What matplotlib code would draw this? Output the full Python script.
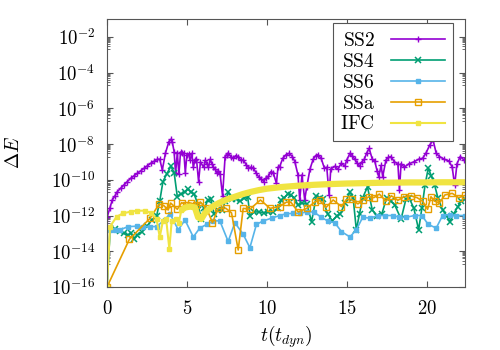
import numpy as np
import matplotlib
matplotlib.use('Agg')
import matplotlib.pyplot as plt
from matplotlib.ticker import FuncFormatter, FixedLocator

plt.rcParams['mathtext.fontset'] = 'cm'

# values are read as log10(Delta E)
ss2_t = [0.0, 0.02, 0.17, 0.33, 0.5, 0.64, 0.85, 1.06, 1.27, 1.48, 1.69, 1.9, 2.1, 2.31, 2.52,
         2.73, 2.94, 3.14, 3.3, 3.46, 3.66, 3.87, 3.98, 4.08, 4.2, 4.29, 4.4, 4.5, 4.6, 4.7,
         4.81, 4.9, 5.0, 5.1, 5.2, 5.31, 5.4, 5.5, 5.6, 5.73, 5.85, 6.04, 6.15, 6.25, 6.35,
         6.46, 6.56, 6.66, 6.77, 6.87, 6.97, 7.08, 7.23, 7.39, 7.5, 7.6, 7.75, 7.9, 8.05, 8.2,
         8.37, 8.54, 8.7, 8.85, 9.0, 9.16, 9.32, 9.48, 9.64, 9.8, 9.95, 10.1, 10.25, 10.4, 10.6,
         10.7, 10.8, 11.0, 11.2, 11.4, 11.6, 11.75, 11.95, 12.06, 12.2, 12.37, 12.5, 12.7, 12.9,
         13.05, 13.2, 13.4, 13.6, 13.75, 13.9, 14.0, 14.25, 14.45, 14.66, 14.87, 15.0, 15.2,
         15.35, 15.5, 15.65, 15.8, 15.95, 16.1, 16.25, 16.4, 16.6, 16.75, 16.9, 17.0, 17.15,
         17.25, 17.45, 17.6, 17.77, 17.98, 18.2, 18.3, 18.4, 18.6, 18.9, 19.2, 19.5, 19.75,
         19.95, 20.2, 20.4, 20.6, 20.8, 21.1, 21.4, 21.6, 21.75, 21.9, 22.1, 22.35]
ss2_log = [-16, -12.06, -11.6, -11.13, -10.9, -10.67, -10.48, -10.29, -10.1, -9.92, -9.78, -9.64,
           -9.5, -9.36, -9.22, -9.08, -8.97, -8.86, -8.85, -9.45, -8.5, -7.87, -7.74, -7.87, -8.43,
           -9.64, -8.5, -9.7, -8.45, -8.5, -8.5, -9.6, -8.6, -8.55, -8.9, -8.52, -9.3, -8.9, -8.85,
           -10.1, -9.0, -9.3, -8.9, -9.1, -9.3, -8.85, -9.1, -9.3, -9.4, -9.64, -9.5, -9.7, -10.9,
           -8.7, -8.6, -8.52, -8.7, -8.8, -8.65, -8.7, -8.9, -8.9, -9.15, -9.32, -9.3, -9.35, -9.6,
           -9.83, -9.95, -10.1, -9.9, -9.8, -9.55, -9.6, -10.2, -9.3, -9.27, -8.8, -8.6, -8.52,
           -8.7, -8.98, -9.73, -11.13, -9.73, -11.13, -10.39, -9.4, -8.85, -8.65, -8.6, -8.8,
           -9.35, -9.3, -10.85, -9.4, -9.25, -9.4, -9.07, -9.25, -8.9, -8.52, -8.65, -8.85, -9.05,
           -9.25, -9.0, -8.85, -8.5, -8.24, -8.85, -8.95, -9.5, -9.83, -9.2, -9.83, -8.9, -8.75,
           -8.7, -9.0, -9.1, -10.57, -9.1, -9.3, -9.1, -9.0, -8.85, -8.8, -8.52, -8.05, -7.78,
           -8.52, -8.7, -8.85, -8.95, -9.3, -10.3, -9.1, -8.7, -8.9]

ss4_t = [0, 0.2, 0.5, 0.8, 1.05, 1.3, 1.5, 1.7, 1.9, 2.2, 2.5, 2.8, 3.1, 3.3, 3.5, 3.75, 4.0,
         4.2, 4.4, 4.6, 4.85, 5.05, 5.25, 5.45, 5.7, 5.9, 6.1, 6.3, 6.5, 6.7, 6.95, 7.2, 7.4,
         7.6, 7.85, 8.1, 8.35, 8.6, 8.8, 8.95, 9.2, 9.5, 9.8, 10.1, 10.4, 10.7, 10.9, 11.1,
         11.3, 11.5, 11.7, 11.95, 12.2, 12.5, 12.8, 13.1, 13.3, 13.5, 13.8, 14.1, 14.4, 14.6,
         14.9, 15.2, 15.4, 15.6, 15.8, 16.0, 16.3, 16.6, 16.9, 17.2, 17.5, 17.75, 18.0, 18.4,
         18.7, 18.9, 19.2, 19.5, 19.7, 19.9, 20.1, 20.3, 20.5, 20.7, 21.0, 21.25, 21.45, 21.7,
         21.95, 22.15, 22.4]
ss4_log = [-16, -12.7, -12.75, -12.85, -13.0, -13.1, -13.0, -13.3, -13.1, -12.9, -12.6, -12.25,
           -12.05, -11.2, -10.1, -9.65, -9.25, -9.6, -10.95, -10.8, -10.7, -10.5, -10.7, -10.8,
           -11.4, -12.2, -11.6, -11.15, -11.1, -11.9, -11.7, -11.7, -11.2, -10.7, -11.1, -11.05,
           -11.2, -11.0, -10.95, -12.0, -11.8, -11.8, -11.85, -11.8, -11.8, -11.6, -11.15, -11.0,
           -10.8, -10.85, -11.0, -11.4, -11.3, -11.35, -12.35, -10.9, -11.0, -11.1, -11.9, -12.3,
           -12.0, -11.9, -11.3, -10.7, -11.0, -12.8, -11.9, -11.0, -10.4, -11.7, -12.0, -11.9,
           -11.0, -11.2, -11.4, -12.2, -11.1, -11.0, -11.6, -12.8, -11.6, -10.3, -9.35, -9.8,
           -10.3, -11.0, -11.7, -12.0, -12.35, -11.9, -11.5, -11.2, -11.1]

ss6_t = [0, 0.19, 0.5, 0.8, 1.33, 1.85, 2.27, 2.69, 3.1, 3.6, 3.94, 4.46, 4.88, 5.4, 5.81, 6.23,
         6.65, 7.06, 7.58, 8.0, 8.52, 8.94, 9.35, 9.77, 10.3, 10.8, 11.23, 11.65, 12.06, 12.5,
         12.95, 13.4, 13.8, 14.25, 14.67, 15.2, 15.6, 16.0, 16.45, 16.96, 17.4, 17.9, 18.3,
         18.7, 19.25, 19.7, 20.1, 20.6, 21.0, 21.44, 21.86, 22.4]
ss6_log = [-16, -12.8, -12.8, -12.8, -12.62, -12.6, -12.62, -12.62, -12.62, -12.25, -11.9, -12.8,
           -12.25, -13.2, -12.7, -12.5, -12.3, -12.3, -13.45, -12.4, -13.05, -13.8, -12.5, -12.3,
           -12.15, -12.0, -11.9, -11.88, -11.88, -11.8, -11.8, -12.1, -12.3, -12.4, -12.9, -13.2,
           -12.8, -12.1, -12.15, -12.0, -12.0, -12.0, -12.1, -12.1, -12.0, -12.0, -12.5, -12.7,
           -12.0, -11.95, -12.0, -12.0]

ssa_t = [0, 1.4, 2.69, 3.27, 3.56, 3.83, 3.98, 4.4, 4.67, 4.94, 5.23, 5.56, 5.85, 6.23, 6.6,
         6.96, 7.44, 7.79, 8.21, 8.52, 8.94, 9.6, 10.2, 10.8, 11.23, 11.5, 11.96, 12.5, 13.0,
         13.3, 13.7, 14.15, 14.67, 14.98, 15.3, 15.7, 16.0, 16.4, 16.7, 17.04, 17.45, 17.8,
         18.2, 18.6, 19.0, 19.4, 19.75, 20.06, 20.27, 20.5, 20.8, 21.14, 21.6, 22.0, 22.4]
ssa_log = [-16, -13.33, -12.16, -11.35, -11.45, -11.69, -11.3, -11.65, -11.28, -11.4, -11.3,
           -11.4, -11.25, -11.6, -12.4, -11.6, -11.6, -11.85, -13.93, -11.6, -11.65, -11.13,
           -11.6, -11.5, -11.25, -11.25, -11.8, -11.6, -11.25, -11.13, -11.55, -11.13, -11.5,
           -11.1, -11.1, -11.35, -11.15, -10.95, -11.0, -10.8, -11.2, -10.9, -11.15, -10.95,
           -10.9, -11.0, -11.2, -11.65, -10.95, -11.2, -11.3, -10.85, -10.76, -11.0, -10.88]

ifc_t = [0, 0.19, 0.6, 1.0, 1.5, 1.9, 2.35, 2.75, 3.1, 3.3, 3.5, 3.7, 3.9, 4.05, 4.3, 4.5, 4.65,
         4.9, 5.2, 5.5, 5.7, 5.9, 6.1, 6.3, 6.6, 7.0, 7.5, 8.0, 8.5, 9.0, 9.5, 10.0, 11.0, 12.0,
         13.0, 14.0, 15.0, 16.0, 17.0, 18.0, 19.0, 20.0, 21.0, 22.4]
ifc_log = [-16, -12.62, -12.07, -11.88, -11.78, -11.73, -11.73, -11.85, -12.2, -13.2, -12.3,
           -12.2, -13.85, -12.3, -12.2, -12.4, -11.7, -11.55, -11.5, -11.55, -12.1, -12.2, -11.9,
           -11.7, -11.5, -11.3, -11.1, -10.95, -10.8, -10.68, -10.58, -10.5, -10.4, -10.33,
           -10.28, -10.24, -10.21, -10.19, -10.17, -10.16, -10.15, -10.15, -10.14, -10.14]
ifc_sparse = 17  # first points drawn with visible markers

fig = plt.figure(figsize=(5, 3.5), dpi=100)
ax = fig.add_axes([0.214, 0.18, 0.716, 0.766])

ax.plot(ss2_t, 10.0 ** np.array(ss2_log), color='#9400D3', lw=1.2, marker='+', ms=4, mew=1.0,
        label=r'$\mathrm{SS2}$')
ax.plot(ss4_t, 10.0 ** np.array(ss4_log), color='#009E73', lw=1.2, marker='x', ms=4, mew=1.1,
        label=r'$\mathrm{SS4}$')
ax.plot(ss6_t, 10.0 ** np.array(ss6_log), color='#56B4E9', lw=1.2, marker='s', ms=3.5,
        label=r'$\mathrm{SS6}$')
ax.plot(ssa_t, 10.0 ** np.array(ssa_log), color='#E69F00', lw=1.2, marker='s', ms=5,
        mfc='none', mew=1.0, label=r'$\mathrm{SSa}$')
ifc = 10.0 ** np.array(ifc_log)
ax.plot(ifc_t, ifc, color='#F0E442', lw=1.5, marker='s', ms=3.5,
        markevery=slice(0, ifc_sparse), label=r'$\mathrm{IFC}$')
ax.plot(ifc_t[ifc_sparse - 1:], ifc[ifc_sparse - 1:], color='#F0E442', lw=4.5,
        solid_capstyle='butt', zorder=2.5)

ax.set_yscale('log')
ax.set_xlim(0, 22.4)
ax.set_ylim(1e-16, 1e-1)
ax.set_xticks([0, 5, 10, 15, 20])
ax.set_yticks([10.0 ** k for k in range(-16, -1, 2)])
ax.yaxis.set_minor_locator(FixedLocator([m * 10.0 ** k for k in range(-15, -1, 2) for m in range(2, 10)]))
ax.xaxis.set_major_formatter(FuncFormatter(lambda v, p: r'$%d$' % v))
ax.yaxis.set_major_formatter(FuncFormatter(lambda v, p: r'$10^{%d}$' % round(np.log10(v))))
ax.yaxis.set_minor_formatter(FuncFormatter(lambda v, p: ''))
ax.tick_params(which='both', direction='in', top=True, right=True, labelsize=13.5, color='#555555')
ax.tick_params(which='major', length=4, pad=8.5)
ax.tick_params(which='minor', length=2)
for s in ax.spines.values():
    s.set_color('#555555')
    s.set_linewidth(0.8)

ax.set_xlabel(r'$t(t_{dyn})$', fontsize=14)
ax.set_ylabel(r'$\Delta E$', fontsize=14)
ax.xaxis.set_label_coords(0.5, -0.135)
ax.yaxis.set_label_coords(-0.235, 0.5)

leg = ax.legend(loc='upper right', bbox_to_anchor=(0.966, 0.985), fontsize=14, markerfirst=False,
                numpoints=1, fancybox=False, framealpha=1, edgecolor='#555555', handlelength=2.8,
                labelspacing=0.1, borderpad=0.4, handletextpad=0.8, borderaxespad=0)
leg.get_frame().set_linewidth(0.8)

fig.savefig('out.png', dpi=100)
